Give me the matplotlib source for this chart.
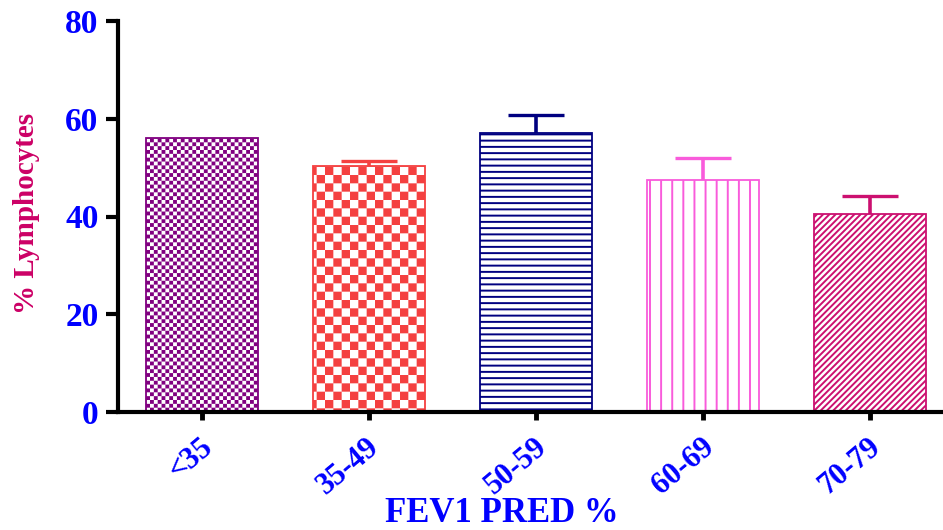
import numpy as np
import matplotlib
matplotlib.use('Agg')
import matplotlib.pyplot as plt
import matplotlib.hatch as mhatch
import matplotlib.transforms as mtransforms
from matplotlib.path import Path

# ---------------- data ----------------
categories = ['<35', '35-49', '50-59', '60-69', '70-79']
mean_lymph = [56.0, 50.4, 57.0, 47.5, 40.5]
sem_lymph = [0.0, 1.0, 3.7, 4.4, 3.7]
y_ticks = [0, 20, 40, 60, 80]

# ---------------- styles ----------------
bar_colors = ['#800080', '#F44040', '#000080', '#F95BDB', '#CC1070']
bar_hatches = ['k', 'q', 'h', 'v', 'd']
FONT = 'Liberation Serif'

plt.rcParams['hatch.linewidth'] = 1.4
HALF = 1.4 / 72.0 / 2.0  # half stroke width in hatch-unit coords (unit = 72pt)


def _checker(n):
    verts, codes = [], []
    s = 1.0 / n
    e = HALF
    for i in range(n):
        for j in range(n):
            if (i + j) % 2 == 0:
                x0, y0 = i * s + e, j * s + e
                x1, y1 = (i + 1) * s - e, (j + 1) * s - e
                verts += [(x0, y0), (x1, y0), (x1, y1), (x0, y1), (x0, y0)]
                codes += [Path.MOVETO, Path.LINETO, Path.LINETO, Path.LINETO, Path.CLOSEPOLY]
    return verts, codes


def _hlines(n):
    verts, codes = [], []
    for k in range(n):
        y = (k + 0.5) / n
        verts += [(0.0, y), (1.0, y)]
        codes += [Path.MOVETO, Path.LINETO]
    return verts, codes


def _vlines(n):
    verts, codes = [], []
    for k in range(n):
        x = (k + 0.5) / n
        verts += [(x, 0.0), (x, 1.0)]
        codes += [Path.MOVETO, Path.LINETO]
    return verts, codes


def _diag(n):
    verts, codes = [], []
    for k in range(-n, n + 1):
        b = k / n
        verts += [(0.0, b), (1.0, 1.0 + b)]
        codes += [Path.MOVETO, Path.LINETO]
    return verts, codes


_CUSTOM = {
    'k': lambda: _checker(26),
    'q': lambda: _checker(12),
    'h': lambda: _hlines(16),
    'v': lambda: _vlines(9),
    'd': lambda: _diag(16),
}


class _CustomHatch(mhatch.HatchPatternBase):
    def __init__(self, hatch, density):
        self._v, self._c = [], []
        for ch in (hatch or ''):
            if ch in _CUSTOM:
                v, c = _CUSTOM[ch]()
                self._v += v
                self._c += c
        self.num_vertices = len(self._v)

    def set_vertices_and_codes(self, vertices, codes):
        vertices[:] = np.asarray(self._v, dtype=float)
        codes[:] = np.asarray(self._c, dtype=codes.dtype)


mhatch._hatch_types.append(_CustomHatch)
mhatch._validate_hatch_pattern = lambda h: None

# ---------------- figure ----------------
fig = plt.figure(figsize=(9.43, 5.30), dpi=100)
ax = fig.add_axes([118 / 943, 118 / 530, (953.5 - 118) / 943, (412 - 21) / 530])

x = np.arange(len(categories))
bars = ax.bar(x, mean_lymph, width=0.67, color='white', linewidth=1.3, zorder=2)
for b, c, h in zip(bars, bar_colors, bar_hatches):
    b.set_edgecolor(c)
    b.set_hatch(h)

for xi, m, e, c in zip(x, mean_lymph, sem_lymph, bar_colors):
    if e > 0:
        eb = ax.errorbar(xi, m, yerr=[[0], [e]], fmt='none', ecolor=c, elinewidth=2.6,
                         capsize=20.5, capthick=2.4, zorder=3)
        # show only the upper cap (hide the cap sitting on the bar top)
        for cap in eb[1]:
            if np.allclose(cap.get_ydata(), m):
                cap.set_visible(False)

ax.set_xlim(-0.5, 4.5)
ax.set_ylim(0, 80)
ax.set_yticks(y_ticks)
ax.set_xticks(x)
ax.set_xticklabels(categories)

for side in ['top', 'right']:
    ax.spines[side].set_visible(False)
for side in ['left', 'bottom']:
    ax.spines[side].set_linewidth(3)

ax.tick_params(axis='y', length=9, width=3, direction='out', pad=5,
               labelsize=24, labelcolor='#0000FF')
ax.tick_params(axis='x', length=6, width=3.5, direction='out', pad=9,
               labelsize=22, labelcolor='#0000FF')

for lab in ax.get_yticklabels():
    lab.set_fontfamily(FONT)
    lab.set_fontweight('bold')

offset = mtransforms.ScaledTranslation(-0.02, 0, fig.dpi_scale_trans)
for lab in ax.get_xticklabels():
    lab.set_fontfamily(FONT)
    lab.set_fontweight('bold')
    lab.set_rotation(40)
    lab.set_ha('right')
    lab.set_va('top')
    lab.set_rotation_mode('anchor')
    lab.set_transform(lab.get_transform() + offset)

fig.text(502 / 943, 0.0, 'FEV1 PRED %', ha='center', va='bottom',
         fontsize=25, fontweight='bold', family=FONT, color='#0000FF')
fig.text(27 / 943, (530 - 213) / 530, '% Lymphocytes', rotation=90,
         ha='center', va='center', fontsize=21, fontweight='bold',
         family=FONT, color='#CC0066')

fig.savefig('out.png', dpi=100)
